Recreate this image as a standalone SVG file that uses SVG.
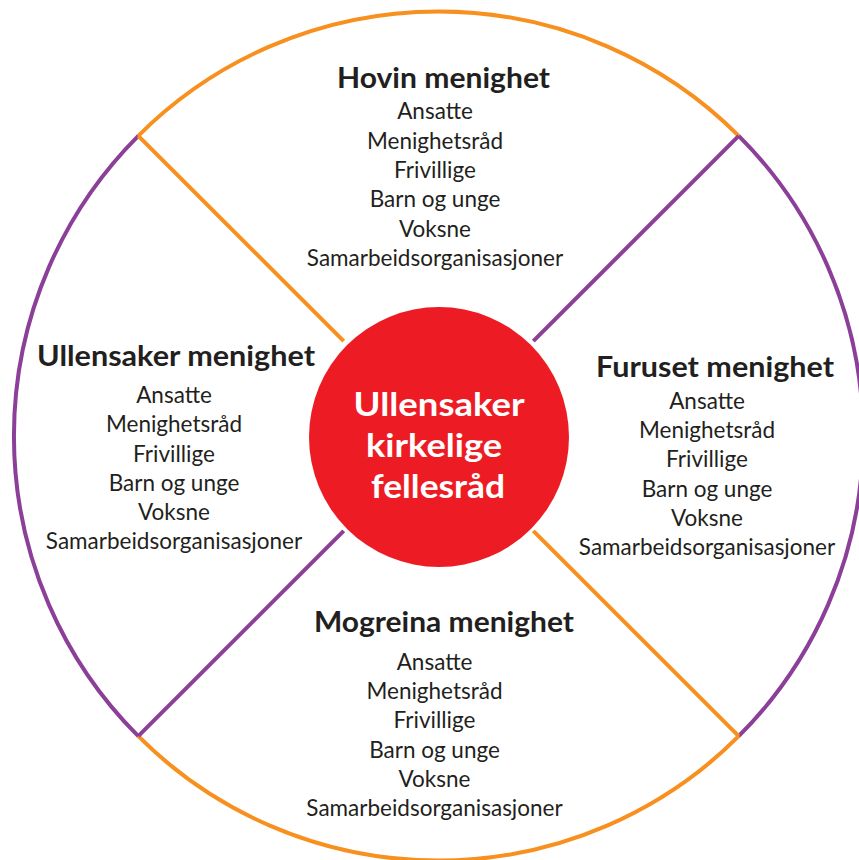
<svg xmlns="http://www.w3.org/2000/svg" width="859" height="860" viewBox="0 0 859 860">
<style>
.o{fill:none;stroke:#F7901E;stroke-width:4}
.p{fill:none;stroke:#8C3F98;stroke-width:4}
.t{font-family:Lato,"Liberation Sans",sans-serif;font-weight:700;font-size:28px;fill:#231F20;text-anchor:middle}
.i{font-family:Lato,"Liberation Sans",sans-serif;font-size:22.5px;fill:#231F20;text-anchor:middle}
.c{font-family:Lato,"Liberation Sans",sans-serif;font-weight:700;font-size:32px;fill:#FFFFFF;text-anchor:middle}
</style>
<rect width="859" height="860" fill="#FFFFFF"/>
<g id="ring">
<path class="o" d="M138.3 135.8 A424.5 424.5 0 0 1 738.7 135.8"/>
<path class="p" d="M738.7 135.8 A424.5 424.5 0 0 1 738.7 736.2"/>
<path class="o" d="M738.7 736.2 A424.5 424.5 0 0 1 138.3 736.2"/>
<path class="p" d="M138.3 736.2 A424.5 424.5 0 0 1 138.3 135.8"/>
</g>
<g id="connectors">
<line class="o" x1="138.3" y1="135.8" x2="343.7" y2="341.2"/>
<line class="p" x1="738.7" y1="135.8" x2="533.3" y2="341.2"/>
<line class="p" x1="138.3" y1="736.2" x2="343.7" y2="530.8"/>
<line class="o" x1="738.7" y1="736.2" x2="533.3" y2="530.8"/>
</g>
<g id="center">
<circle cx="439" cy="437" r="130" fill="#ED1C24"/>
<text class="c" x="439" y="416" textLength="171" lengthAdjust="spacingAndGlyphs">Ullensaker</text>
<text class="c" x="434" y="457" textLength="136" lengthAdjust="spacingAndGlyphs">kirkelige</text>
<text class="c" x="438" y="498" textLength="134" lengthAdjust="spacingAndGlyphs">fellesråd</text>
</g>
<g id="hovin">
<text class="t" x="443.5" y="88" textLength="213" lengthAdjust="spacingAndGlyphs">Hovin menighet</text>
<text class="i" x="435" y="119">Ansatte</text>
<text class="i" x="435" y="148.5">Menighetsråd</text>
<text class="i" x="435" y="178">Frivillige</text>
<text class="i" x="435" y="207">Barn og unge</text>
<text class="i" x="435" y="236.5">Voksne</text>
<text class="i" x="435" y="266">Samarbeidsorganisasjoner</text>
</g>
<g id="ullensaker">
<text class="t" x="176" y="366" textLength="278" lengthAdjust="spacingAndGlyphs">Ullensaker menighet</text>
<text class="i" x="174" y="403">Ansatte</text>
<text class="i" x="174" y="432">Menighetsråd</text>
<text class="i" x="174" y="461.5">Frivillige</text>
<text class="i" x="174" y="490.5">Barn og unge</text>
<text class="i" x="174" y="520">Voksne</text>
<text class="i" x="174" y="549">Samarbeidsorganisasjoner</text>
</g>
<g id="furuset">
<text class="t" x="715" y="377" textLength="238" lengthAdjust="spacingAndGlyphs">Furuset menighet</text>
<text class="i" x="707" y="408.5">Ansatte</text>
<text class="i" x="707" y="438">Menighetsråd</text>
<text class="i" x="707" y="467">Frivillige</text>
<text class="i" x="707" y="496.5">Barn og unge</text>
<text class="i" x="707" y="526">Voksne</text>
<text class="i" x="707" y="555">Samarbeidsorganisasjoner</text>
</g>
<g id="mogreina">
<text class="t" x="444" y="632" textLength="260" lengthAdjust="spacingAndGlyphs">Mogreina menighet</text>
<text class="i" x="434.5" y="669.5">Ansatte</text>
<text class="i" x="434.5" y="699">Menighetsråd</text>
<text class="i" x="434.5" y="728">Frivillige</text>
<text class="i" x="434.5" y="757.5">Barn og unge</text>
<text class="i" x="434.5" y="787">Voksne</text>
<text class="i" x="434.5" y="816">Samarbeidsorganisasjoner</text>
</g>
</svg>
